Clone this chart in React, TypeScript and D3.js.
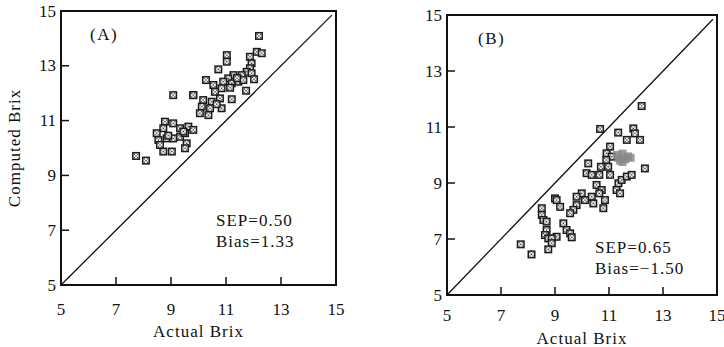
import * as d3 from 'd3';

// Panel (A): computed vs actual Brix
const actualA = [
  12.2, 12.12, 12.3, 11.03, 11.03, 11.87, 11.93, 11.87, 11.75, 11.93, 11.57,
  10.72, 11.27, 11.08, 11.21, 11.45, 11.63, 10.9, 10.84, 12.02, 11.73,
  10.27, 10.54, 10.6, 9.81, 10.17, 10.48, 10.78, 11.21, 10.12, 10.42, 10.84, 10.05, 10.36,
  9.08, 9.81, 8.78, 8.72, 9.08, 9.33, 9.63, 9.81,
  8.48, 8.54, 8.84, 9.08, 9.33, 9.51, 8.6, 8.72, 9.03, 9.57, 9.51,
  7.73, 8.09, 11.4, 11.15, 10.66, 9.45, 8.9,
];
const computedA = [
  14.09, 13.51, 13.46, 13.39, 13.15, 13.33, 13.09, 12.91, 12.78, 12.73, 12.66,
  12.87, 12.66, 12.54, 12.36, 12.42, 12.48, 12.42, 12.18, 12.51, 12.09,
  12.48, 12.3, 12.05, 11.93, 11.75, 11.69, 11.81, 11.78, 11.51, 11.45, 11.45, 11.27, 11.2,
  11.93, 11.93, 10.96, 10.72, 10.9, 10.72, 10.78, 10.66,
  10.54, 10.29, 10.35, 10.35, 10.41, 10.54, 10.11, 9.87, 9.87, 10.17, 9.99,
  9.71, 9.54, 12.55, 12.2, 11.6, 10.6, 10.45,
];

// Panel (B)
const actualB = [
  12.21, 10.67, 11.34, 11.66, 11.9, 11.96, 12.15, 12.33,
  11.04, 10.91, 11.1, 10.9, 10.97, 11.04,
  10.23, 10.17, 10.36, 10.7, 10.64, 10.54, 10.73, 10.64,
  11.35, 11.47, 11.66, 11.84, 11.28, 11.41, 10.85, 10.79,
  10.36, 10.42, 10.11, 9.99, 9.8, 9.8, 9.68, 9.56,
  9.0, 9.06, 9.19, 8.51, 8.51, 8.57, 8.69, 8.69, 8.63, 8.75,
  9.31, 9.43, 9.56, 9.62, 9.06, 8.88, 8.88, 8.75, 7.73, 8.13,
];
const computedB = [
  11.75, 10.93, 10.8, 10.54, 10.95, 10.77, 10.54, 9.52,
  10.3, 10.06, 9.94, 9.82, 9.58, 9.29,
  9.7, 9.35, 9.29, 9.58, 9.29, 8.93, 8.75, 8.63,
  8.99, 9.11, 9.23, 9.29, 8.75, 8.63, 8.39, 8.1,
  8.51, 8.27, 8.39, 8.63, 8.51, 8.21, 8.04, 7.92,
  8.45, 8.39, 8.15, 8.1, 7.86, 7.68, 7.62, 7.32, 7.14, 7.02,
  7.56, 7.32, 7.2, 7.06, 7.08, 7.02, 6.85, 6.63, 6.81, 6.45,
];
// grey, overprinted blob in (B)
const shadedActualB = [11.3, 11.5, 11.7, 11.4, 11.6, 11.8, 11.5, 11.35];
const shadedComputedB = [10.0, 10.05, 9.95, 9.8, 9.85, 9.9, 9.75, 9.9];

const ticks = [5, 7, 9, 11, 13, 15];
const innerTicks = [7, 9, 11, 13];

const font = '"Liberation Serif", "DejaVu Serif", serif';

function Marker({ x, y, shaded }: { x: number; y: number; shaded?: boolean }) {
  if (shaded) {
    return <rect x={x - 4} y={y - 4} width={8} height={8} fill="#8a8a8a" opacity={0.85} />;
  }
  // dark frame with a speckled light centre
  return (
    <g>
      <rect x={x - 4} y={y - 4} width={8} height={8} fill="#1a1a1a" />
      <rect x={x - 2.5} y={y - 2.5} width={5} height={5} fill="#eee" />
      <rect x={x - 0.6} y={y - 0.6} width={1.2} height={1.2} fill="#222" />
      <rect x={x - 2.2} y={y - 2.2} width={1.2} height={1.2} fill="#444" />
      <rect x={x + 1} y={y + 1} width={1.2} height={1.2} fill="#444" />
      <rect x={x + 1} y={y - 2.2} width={1.2} height={1.2} fill="#555" />
      <rect x={x - 2.2} y={y + 1} width={1.2} height={1.2} fill="#555" />
    </g>
  );
}

interface PanelProps {
  xs: number[];
  ys: number[];
  grayXs?: number[];
  grayYs?: number[];
  left: number;
  right: number;
  top: number;
  bottom: number;
  tag: string;
  tagX: number;
  sep: string;
  bias: string;
  statX: number;
  statY: number;
  tickLabelY: number;
  axisLabelY: number;
}

function Panel(p: PanelProps) {
  const x = d3.scaleLinear().domain([5, 15]).range([p.left, p.right]);
  const y = d3.scaleLinear().domain([5, 15]).range([p.bottom, p.top]);
  const tl = 8;
  return (
    <g fontFamily={font} fill="#111">
      <line x1={x(5)} y1={y(5)} x2={x(14.85)} y2={y(14.85)} stroke="#111" strokeWidth={1.3} />
      {p.xs.map((v, i) => (
        <Marker key={i} x={x(v)} y={y(p.ys[i])} />
      ))}
      {(p.grayXs || []).map((v, i) => (
        <Marker key={'g' + i} x={x(v)} y={y(p.grayYs![i])} shaded />
      ))}
      <rect
        x={p.left}
        y={p.top}
        width={p.right - p.left}
        height={p.bottom - p.top}
        fill="none"
        stroke="#111"
        strokeWidth={2}
      />
      {innerTicks.map((t) => (
        <g key={t} stroke="#111" strokeWidth={1.5}>
          <line x1={x(t)} x2={x(t)} y1={p.bottom} y2={p.bottom - tl} />
          <line x1={p.left} x2={p.left + tl} y1={y(t)} y2={y(t)} />
        </g>
      ))}
      {ticks.map((t) => (
        <g key={t} fontSize={17}>
          <text x={x(t)} y={p.tickLabelY} textAnchor="middle">
            {t}
          </text>
          <text x={p.left - 5} y={y(t)} textAnchor="end" dominantBaseline="central">
            {t}
          </text>
        </g>
      ))}
      <text
        x={(p.left + p.right) / 2}
        y={p.axisLabelY}
        textAnchor="middle"
        fontSize={17}
        letterSpacing={1}
      >
        Actual Brix
      </text>
      <text x={p.tagX} y={p.top + 29} fontSize={17} letterSpacing={1.5}>
        {p.tag}
      </text>
      <text x={p.statX} y={p.statY} fontSize={17} letterSpacing={1}>
        {p.sep}
      </text>
      <text x={p.statX} y={p.statY + 21} fontSize={17} letterSpacing={1}>
        {p.bias}
      </text>
    </g>
  );
}

export default function App() {
  return (
    <svg width={724} height={347} style={{ display: 'block', position: 'absolute', left: 0, top: 0 }}>
      <rect width={724} height={347} fill="#fff" />
      <Panel
        xs={actualA}
        ys={computedA}
        left={61}
        right={336}
        top={11}
        bottom={285}
        tag="(A)"
        tagX={90}
        sep="SEP=0.50"
        bias="Bias=1.33"
        statX={216}
        statY={226}
        tickLabelY={315}
        axisLabelY={337}
      />
      <text
        transform="translate(20,148) rotate(-90)"
        textAnchor="middle"
        fontFamily={font}
        fontSize={17}
        letterSpacing={1}
        fill="#111"
      >
        Computed Brix
      </text>
      <Panel
        xs={actualB}
        ys={computedB}
        grayXs={shadedActualB}
        grayYs={shadedComputedB}
        left={447}
        right={717}
        top={15}
        bottom={295}
        tag="(B)"
        tagX={478}
        sep="SEP=0.65"
        bias="Bias=−1.50"
        statX={595}
        statY={253}
        tickLabelY={321}
        axisLabelY={344}
      />
    </svg>
  );
}
